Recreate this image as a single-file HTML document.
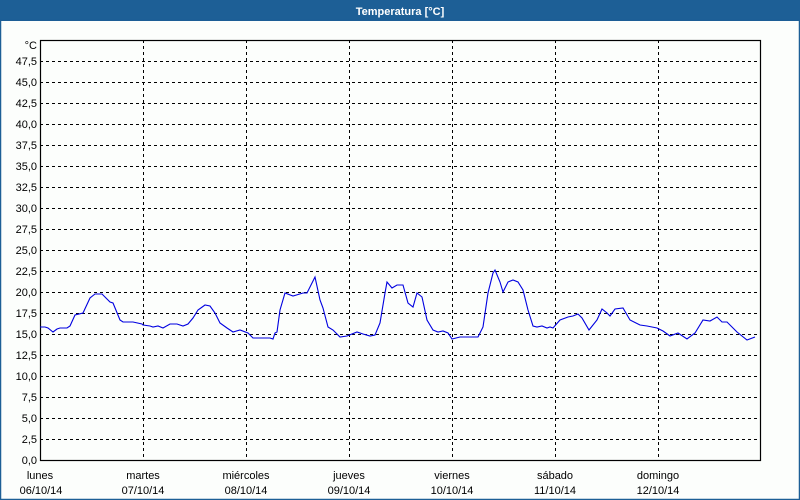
<!DOCTYPE html>
<html><head><meta charset="utf-8"><style>
html,body{margin:0;padding:0;background:#fff;}
svg{display:block;}
text{font-family:"Liberation Sans",sans-serif;font-size:11px;fill:#000;}
</style></head><body>
<svg width="800" height="500" xmlns="http://www.w3.org/2000/svg">
<rect x="0" y="0" width="800" height="500" fill="#fcfefc"/>
<rect x="0" y="0" width="800" height="21" fill="#1d5f96"/>
<rect x="0.5" y="20" width="799" height="479.5" fill="none" stroke="#1d5f96" stroke-width="1.5"/>
<text x="400" y="15" text-anchor="middle" style="font-weight:bold;fill:#fff;font-size:11px">Temperatura [°C]</text>
<g stroke="#000" stroke-width="1" stroke-dasharray="3,3" fill="none">
<path d="M40 61.5H760M40 82.5H760M40 103.5H760M40 124.5H760M40 145.5H760M40 166.5H760M40 187.5H760M40 208.5H760M40 229.5H760M40 250.5H760M40 271.5H760M40 292.5H760M40 313.5H760M40 334.5H760M40 355.5H760M40 376.5H760M40 397.5H760M40 418.5H760M40 439.5H760"/>
<path d="M143.5 40V460M246.5 40V460M349.5 40V460M452.5 40V460M555.5 40V460M658.5 40V460"/>
</g>
<rect x="40.5" y="40.5" width="720" height="420" fill="none" stroke="#000" stroke-width="1.2"/>
<g text-anchor="end">
<text x="37" y="49">°C</text>
<text x="37" y="65">47,5</text><text x="37" y="86">45,0</text><text x="37" y="107">42,5</text><text x="37" y="128">40,0</text><text x="37" y="149">37,5</text><text x="37" y="170">35,0</text><text x="37" y="191">32,5</text><text x="37" y="212">30,0</text><text x="37" y="233">27,5</text><text x="37" y="254">25,0</text><text x="37" y="275">22,5</text><text x="37" y="296">20,0</text><text x="37" y="317">17,5</text><text x="37" y="338">15,0</text><text x="37" y="359">12,5</text><text x="37" y="380">10,0</text><text x="37" y="401">7,5</text><text x="37" y="422">5,0</text><text x="37" y="443">2,5</text><text x="37" y="464">0,0</text>
</g>
<g text-anchor="middle">
<text x="40" y="479">lunes</text><text x="41" y="494">06/10/14</text>
<text x="143" y="479">martes</text><text x="143" y="494">07/10/14</text>
<text x="246" y="479">miércoles</text><text x="246" y="494">08/10/14</text>
<text x="349" y="479">jueves</text><text x="349" y="494">09/10/14</text>
<text x="452" y="479">viernes</text><text x="452" y="494">10/10/14</text>
<text x="555" y="479">sábado</text><text x="555" y="494">11/10/14</text>
<text x="658" y="479">domingo</text><text x="658" y="494">12/10/14</text>
</g>
<polyline fill="none" stroke="#0000e0" stroke-width="1.1" points="40,327 45,327 48,328 53,332 57,329 60,328 67,328 70,326 75,315 83,313 90,298 95,294 102,294 110,302 113,303 120,320 123,322 133,322 142,324 143,325 150,326 153,327 158,326 163,328 170,324 177,324 183,326 188,324 193,318 198,310 205,305 210,306 215,313 220,323 227,328 233,332 240,330 248,333 253,338 260,338 270,338 273,339 275,333 277,332 280,310 285,293 293,296 303,293 307,293 315,277 320,300 323,308 328,327 333,330 340,337 347,336 357,332 363,334 370,336 375,335 380,323 385,293 387,282 392,288 397,285 403,285 408,303 413,307 417,293 422,297 427,320 433,330 438,332 443,331 448,333 452,339 460,337 463,337 478,337 483,327 488,293 493,273 495,270 500,282 503,292 508,282 513,280 518,282 523,290 528,310 533,326 537,327 542,326 547,328 550,327 553,328 560,320 568,317 573,316 578,314 582,318 589,330 597,320 602,309 607,313 610,316 615,309 623,308 630,320 640,325 647,326 657,328 663,331 670,336 678,333 687,339 695,333 703,320 710,321 717,317 722,322 727,322 737,332 747,340 755,337"/>
</svg>
</body></html>
